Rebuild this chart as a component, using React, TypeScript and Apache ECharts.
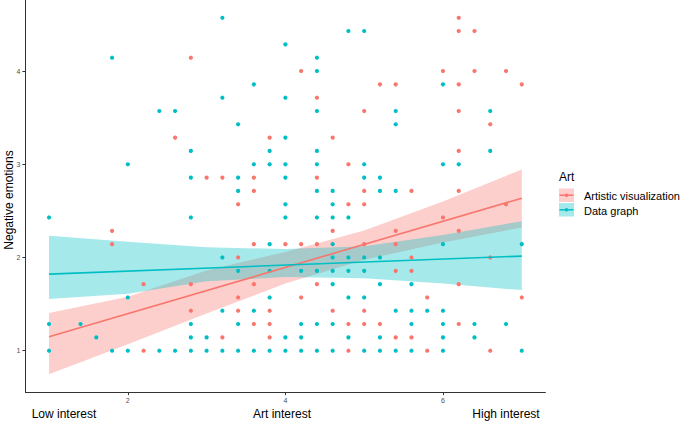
import React, { useEffect, useRef } from "react";
import * as echarts from "echarts";

// Points: [art interest, negative emotions]
const artisticPoints: number[][] = [
  [1.8, 2.143], [1.8, 2.286],
  [2.2, 1.0], [2.2, 1.714],
  [2.6, 3.286],
  [2.8, 1.429], [2.8, 1.714], [2.8, 4.143],
  [3.0, 2.857],
  [3.2, 1.143], [3.2, 2.857],
  [3.4, 1.429], [3.4, 1.571], [3.4, 2.0], [3.4, 2.571],
  [3.6, 1.286], [3.6, 1.714], [3.6, 2.143], [3.6, 2.714], [3.6, 2.857],
  [3.8, 1.143], [3.8, 1.286], [3.8, 1.429], [3.8, 3.286],
  [4.0, 2.143],
  [4.2, 1.571], [4.2, 2.143], [4.2, 4.0],
  [4.4, 1.714], [4.4, 2.143], [4.4, 2.857], [4.4, 3.714],
  [4.6, 1.429], [4.6, 2.286], [4.6, 3.286],
  [4.8, 1.0], [4.8, 1.286], [4.8, 2.571], [4.8, 3.0],
  [5.0, 1.286], [5.0, 1.429], [5.0, 2.143], [5.0, 2.571], [5.0, 2.714], [5.0, 3.571],
  [5.2, 1.286], [5.2, 3.857],
  [5.4, 1.143], [5.4, 1.857], [5.4, 2.143], [5.4, 2.286], [5.4, 3.857],
  [5.6, 1.143], [5.6, 1.857], [5.6, 2.0], [5.6, 2.714],
  [5.8, 1.0], [5.8, 1.571],
  [6.0, 2.429], [6.0, 4.0],
  [6.2, 1.286], [6.2, 1.714], [6.2, 2.286], [6.2, 2.714], [6.2, 3.143], [6.2, 3.571], [6.2, 3.857], [6.2, 4.429], [6.2, 4.571],
  [6.4, 4.0], [6.4, 4.429],
  [6.6, 1.0], [6.6, 2.0], [6.6, 3.429],
  [6.8, 2.571], [6.8, 4.0],
  [7.0, 1.571], [7.0, 3.857],
];

const dataGraphPoints: number[][] = [
  [1.0, 1.0], [1.0, 1.286], [1.0, 2.429],
  [1.4, 1.286],
  [1.6, 1.143],
  [1.8, 1.0], [1.8, 4.143],
  [2.0, 1.0], [2.0, 1.571], [2.0, 3.0],
  [2.4, 1.0], [2.4, 3.571],
  [2.6, 1.0], [2.6, 3.571],
  [2.8, 1.0], [2.8, 1.143], [2.8, 1.286], [2.8, 2.429], [2.8, 2.857], [2.8, 3.143],
  [3.0, 1.0], [3.0, 1.143],
  [3.2, 1.0], [3.2, 1.429], [3.2, 2.0], [3.2, 3.714], [3.2, 4.571],
  [3.4, 1.0], [3.4, 1.286], [3.4, 1.857], [3.4, 2.714], [3.4, 2.857], [3.4, 3.429],
  [3.6, 1.0], [3.6, 1.429], [3.6, 3.0], [3.6, 3.857],
  [3.8, 1.0], [3.8, 1.571], [3.8, 1.857], [3.8, 2.143], [3.8, 3.0], [3.8, 3.143],
  [4.0, 1.0], [4.0, 1.143], [4.0, 2.429], [4.0, 2.571], [4.0, 2.857], [4.0, 3.0], [4.0, 3.286], [4.0, 3.714], [4.0, 4.286],
  [4.2, 1.0], [4.2, 1.143], [4.2, 1.286], [4.2, 1.857],
  [4.4, 1.0], [4.4, 1.286], [4.4, 1.857], [4.4, 2.429], [4.4, 2.714], [4.4, 3.0], [4.4, 3.143], [4.4, 3.571], [4.4, 4.0], [4.4, 4.143],
  [4.6, 1.0], [4.6, 1.286], [4.6, 1.714], [4.6, 1.857], [4.6, 2.0], [4.6, 2.143], [4.6, 2.429], [4.6, 2.571], [4.6, 2.714],
  [4.8, 1.143], [4.8, 1.571], [4.8, 1.857], [4.8, 2.0], [4.8, 2.429], [4.8, 4.429],
  [5.0, 1.0], [5.0, 1.571], [5.0, 1.857], [5.0, 2.0], [5.0, 2.857], [5.0, 3.0], [5.0, 4.429],
  [5.2, 1.0], [5.2, 1.143], [5.2, 1.714], [5.2, 2.0], [5.2, 2.714], [5.2, 2.857],
  [5.4, 1.0], [5.4, 1.429], [5.4, 2.714], [5.4, 3.429], [5.4, 3.571],
  [5.6, 1.0], [5.6, 1.286], [5.6, 1.429], [5.6, 1.714],
  [5.8, 1.429],
  [6.0, 1.0], [6.0, 1.143], [6.0, 1.286], [6.0, 1.429], [6.0, 2.143], [6.0, 3.0], [6.0, 3.857],
  [6.2, 3.0],
  [6.4, 1.143], [6.4, 1.286],
  [6.6, 3.143], [6.6, 3.571],
  [6.8, 1.286],
  [7.0, 1.0], [7.0, 2.143],
];

// Fitted lines (endpoints)
const artisticFit: number[][] = [[1, 1.15], [7, 2.636]];
const dataGraphFit: number[][] = [[1, 1.822], [7, 2.015]];

// Confidence bands
const bandX = [1, 2, 3, 4, 5, 6, 7];
const artisticLower = [0.747, 1.07, 1.40, 1.72, 1.975, 2.16, 2.322];
const artisticUpper = [1.404, 1.58, 1.86, 2.06, 2.29, 2.60, 2.944];
const dataGraphLower = [1.554, 1.61, 1.745, 1.79, 1.776, 1.72, 1.65];
const dataGraphUpper = [2.232, 2.168, 2.11, 2.09, 2.12, 2.24, 2.39];

const xTicks = [2, 4, 6];
const yTicks = [1, 2, 3, 4];
const seriesNames = ["Artistic visualization", "Data graph"];

const RED = "#F8766D";
const BLUE = "#00BFC4";
const FONT = "'Liberation Sans', Arial, sans-serif";

function bandSeries(lower: number[], upper: number[], color: string) {
  return {
    type: "custom",
    silent: true,
    data: [[bandX[0], lower[0]]],
    renderItem: (_params: any, api: any) => {
      const pts: number[][] = [];
      for (let i = 0; i < bandX.length; i++) pts.push(api.coord([bandX[i], upper[i]]));
      for (let i = bandX.length - 1; i >= 0; i--) pts.push(api.coord([bandX[i], lower[i]]));
      return {
        type: "polygon",
        shape: { points: pts },
        style: { fill: color, opacity: 0.35 },
      };
    },
  };
}

export default function App() {
  const ref = useRef<HTMLDivElement>(null);
  useEffect(() => {
    document.body.style.margin = "0";
    if (!ref.current) return;
    const chart = echarts.init(ref.current, undefined, { renderer: "svg" });
    const axisLineStyle = { color: "#333333", width: 1 };
    chart.setOption({
      animation: false,
      backgroundColor: "#ffffff",
      textStyle: { fontFamily: FONT },
      grid: { left: 25.4, right: 139.6, top: 0, bottom: 29.9, containLabel: false },
      xAxis: {
        type: "value",
        min: 0.7,
        max: 7.3,
        splitLine: { show: false },
        axisLine: { show: true, lineStyle: axisLineStyle },
        axisTick: { show: true, length: 3, lineStyle: axisLineStyle, customValues: xTicks },
        axisLabel: { fontSize: 7, color: "#4d4d4d", margin: 5, customValues: xTicks, fontFamily: FONT },
      },
      yAxis: {
        type: "value",
        min: 0.556,
        max: 4.762,
        splitLine: { show: false },
        axisLine: { show: true, lineStyle: axisLineStyle },
        axisTick: { show: true, length: 3, lineStyle: axisLineStyle, customValues: yTicks },
        axisLabel: { fontSize: 7, color: "#4d4d4d", margin: 5, customValues: yTicks, fontFamily: FONT },
      },
      series: [
        {
          name: seriesNames[1],
          type: "scatter",
          silent: true,
          symbolSize: 4.2,
          itemStyle: { color: BLUE, opacity: 1 },
          data: dataGraphPoints,
        },
        {
          name: seriesNames[0],
          type: "scatter",
          silent: true,
          symbolSize: 4.2,
          itemStyle: { color: RED, opacity: 1 },
          data: artisticPoints,
        },
        bandSeries(artisticLower, artisticUpper, RED),
        {
          type: "line",
          silent: true,
          symbol: "none",
          lineStyle: { color: RED, width: 1.6 },
          data: artisticFit,
        },
        bandSeries(dataGraphLower, dataGraphUpper, BLUE),
        {
          type: "line",
          silent: true,
          symbol: "none",
          lineStyle: { color: BLUE, width: 1.6 },
          data: dataGraphFit,
        },
      ],
      graphic: [
        {
          type: "text",
          x: 9,
          y: 200,
          rotation: Math.PI / 2,
          style: {
            text: "Negative emotions",
            font: `12px ${FONT}`,
            fill: "#000",
            align: "center",
            verticalAlign: "middle",
            textAlign: "center",
            textVerticalAlign: "middle",
          },
        },
        {
          type: "text",
          x: 64,
          y: 414,
          style: { text: "Low interest", font: `12px ${FONT}`, fill: "#000", align: "center", verticalAlign: "middle", textAlign: "center", textVerticalAlign: "middle" },
        },
        {
          type: "text",
          x: 282,
          y: 414,
          style: { text: "Art interest", font: `12px ${FONT}`, fill: "#000", align: "center", verticalAlign: "middle", textAlign: "center", textVerticalAlign: "middle" },
        },
        {
          type: "text",
          x: 506,
          y: 414,
          style: { text: "High interest", font: `12px ${FONT}`, fill: "#000", align: "center", verticalAlign: "middle", textAlign: "center", textVerticalAlign: "middle" },
        },
        {
          type: "text",
          x: 559,
          y: 177,
          style: { text: "Art", font: `12px ${FONT}`, fill: "#000", align: "left", verticalAlign: "middle", textAlign: "left", textVerticalAlign: "middle" },
        },
        { type: "rect", shape: { x: 559, y: 188.5, width: 15, height: 13.5 }, style: { fill: RED, opacity: 0.35 } },
        { type: "line", shape: { x1: 559.5, y1: 195.2, x2: 573.5, y2: 195.2 }, style: { stroke: RED, lineWidth: 1.5 } },
        { type: "circle", shape: { cx: 566.5, cy: 195.2, r: 1.8 }, style: { fill: RED } },
        { type: "rect", shape: { x: 559, y: 203, width: 15, height: 13.5 }, style: { fill: BLUE, opacity: 0.35 } },
        { type: "line", shape: { x1: 559.5, y1: 209.8, x2: 573.5, y2: 209.8 }, style: { stroke: BLUE, lineWidth: 1.5 } },
        { type: "circle", shape: { cx: 566.5, cy: 209.8, r: 1.8 }, style: { fill: BLUE } },
        {
          type: "text",
          x: 584,
          y: 195.5,
          style: { text: seriesNames[0], font: `11px ${FONT}`, fill: "#000", align: "left", verticalAlign: "middle", textAlign: "left", textVerticalAlign: "middle" },
        },
        {
          type: "text",
          x: 584,
          y: 210.5,
          style: { text: seriesNames[1], font: `11px ${FONT}`, fill: "#000", align: "left", verticalAlign: "middle", textAlign: "left", textVerticalAlign: "middle" },
        },
      ],
    });
    return () => chart.dispose();
  }, []);
  return <div ref={ref} style={{ width: 685, height: 422 }} />;
}
